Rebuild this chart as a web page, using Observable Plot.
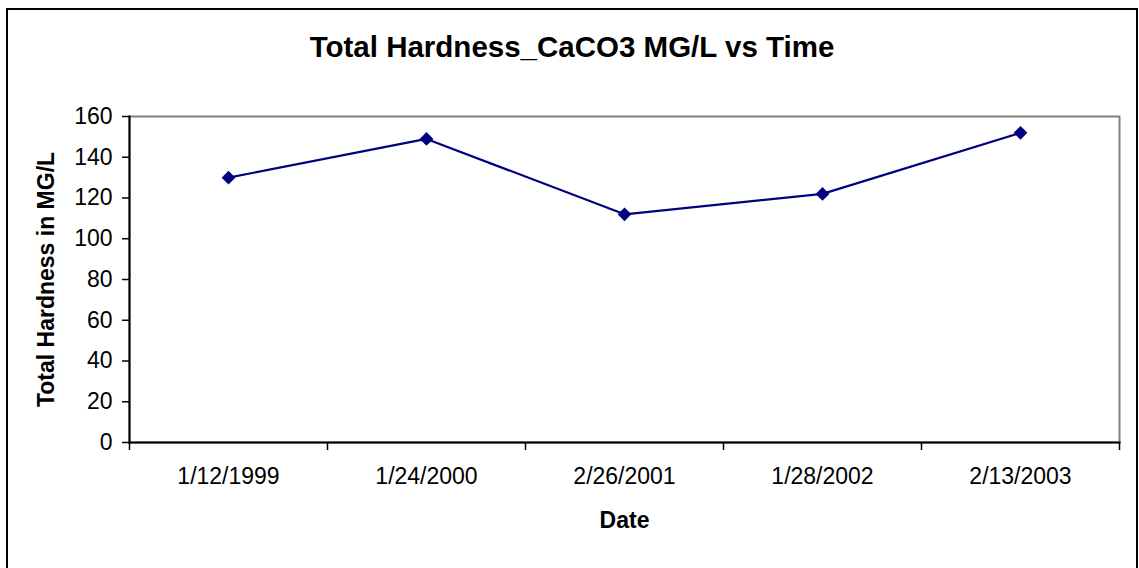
<!DOCTYPE html>
<html>
<head>
<meta charset="utf-8">
<script src="https://cdn.jsdelivr.net/npm/d3@7"></script>
<script src="https://cdn.jsdelivr.net/npm/@observablehq/plot@0.6"></script>
<style>
  html, body { margin: 0; padding: 0; background: #fff; overflow: hidden; }
  #wrap { position: relative; width: 1139px; height: 568px; font-family: Arial, "Liberation Sans", sans-serif; }
  #border { position: absolute; left: 6px; top: 8px; width: 1132px; height: 620px; border: 2px solid #000; box-sizing: border-box; }
  #title { position: absolute; left: 6px; width: 1132px; top: 32px; line-height: 30px; text-align: center; font-weight: bold; font-size: 29.5px; color: #000; }
  #chart { position: absolute; left: 0; top: 0; }
</style>
</head>
<body>
<div id="wrap">
  <div id="border"></div>
  <div id="title">Total Hardness_CaCO3 MG/L vs Time</div>
  <div id="chart"></div>
</div>
<script>
const dates = ["1/12/1999", "1/24/2000", "2/26/2001", "1/28/2002", "2/13/2003"];
const hardness = [130, 149, 112, 122, 152];
const yTicks = [0, 20, 40, 60, 80, 100, 120, 140, 160];
const xLabel = "Date";
const yLabel = "Total Hardness in MG/L";

const data = dates.map((d, i) => ({i, date: d, value: hardness[i]}));
const boundaries = d3.range(dates.length + 1).map(k => k - 0.5);
const centers = d3.range(dates.length);

const plot = Plot.plot({
  width: 1139,
  height: 568,
  marginLeft: 129,
  marginRight: 20,
  marginTop: 116,
  marginBottom: 126,
  style: {fontFamily: "Arial, 'Liberation Sans', sans-serif", fontSize: "23px", color: "#000", background: "transparent", overflow: "visible"},
  x: {type: "linear", domain: [-0.5, dates.length - 0.5]},
  y: {domain: [0, 160]},
  marks: [
    Plot.frame({stroke: "#808080", strokeWidth: 2}),
    Plot.frame({anchor: "left", stroke: "#000", strokeWidth: 2}),
    Plot.frame({anchor: "bottom", stroke: "#000", strokeWidth: 2}),
    Plot.axisY({ticks: yTicks, tickSize: 7, tickPadding: 10, tickFormat: d => String(d), label: null, fontSize: 23, strokeWidth: 1.5}),
    Plot.axisX({ticks: boundaries, tickSize: 8, tickFormat: () => "", label: null, strokeWidth: 1.5}),
    Plot.axisX({ticks: centers, tickSize: 0, tickPadding: 25, tickFormat: i => dates[i], label: null, fontSize: 23}),
    Plot.text([xLabel], {frameAnchor: "bottom", lineAnchor: "bottom", dy: 85, text: d => d, fontWeight: "bold", fontSize: 23}),
    Plot.text([yLabel], {frameAnchor: "left", textAnchor: "middle", dx: -83, rotate: -90, text: d => d, fontWeight: "bold", fontSize: 23}),
    Plot.line(data, {x: "i", y: "value", stroke: "#000080", strokeWidth: 2.2}),
    Plot.dot(data, {x: "i", y: "value", symbol: "diamond2", r: 6.2, fill: "#000080", stroke: "none"})
  ]
});
document.getElementById("chart").appendChild(plot);
</script>
</body>
</html>
